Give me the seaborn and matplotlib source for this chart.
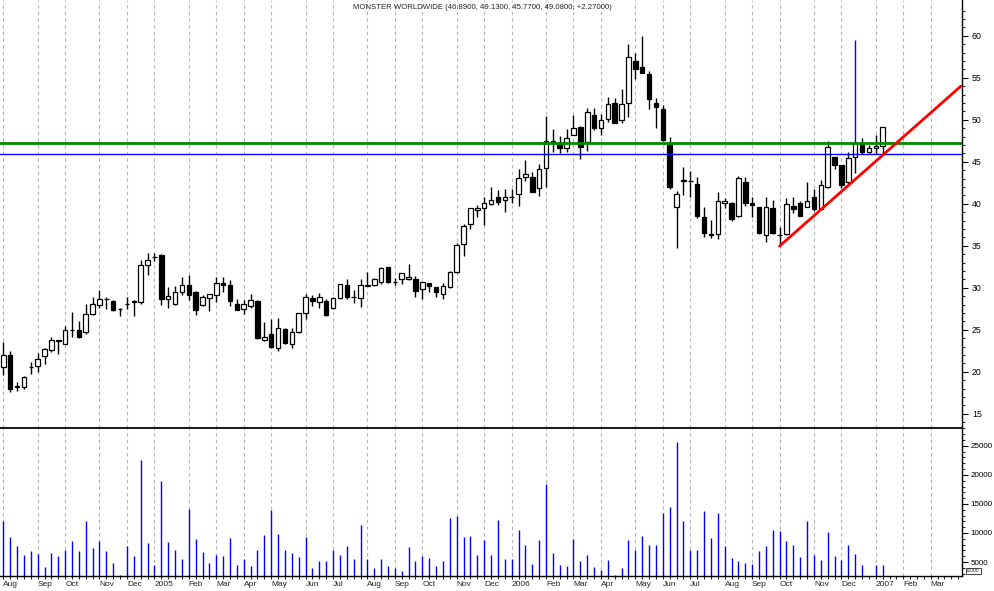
import matplotlib
matplotlib.use("Agg")
import numpy as np
import pandas as pd
import matplotlib.pyplot as plt
import seaborn as sns

# weekly bars, first week starts Mon 26 Jul 2004
start_week = "2004-07-26"

opens = [20.52, 21.99, 18.2, 18.14, 20.55, 20.64, 21.83, 22.55, 23.7, 23.34,
         24.95, 24.97, 24.69, 26.83, 27.9, 28.62, 28.42, 27.43, 28.08, 28.42,
         28.26, 32.66, 33.6, 33.89, 28.66, 28.02, 29.45, 30.32, 29.45, 27.98,
         28.74, 29.09, 30.56, 30.32, 28.02, 27.43, 27.82, 28.42, 23.77, 24.49,
         22.79, 25.08, 23.3, 24.69, 26.95, 28.74, 28.34, 28.42, 27.54, 28.73,
         30.28, 28.85, 28.73, 30.25, 30.28, 30.72, 32.5, 30.7, 30.99, 31.03,
         31.03, 29.8, 30.52, 30.12, 29.25, 30.12, 31.83, 35.16, 37.54, 39.29,
         39.45, 39.93, 40.76, 40.41, 40.82, 41.16, 43.14, 43.14, 41.83, 44.21,
         47.39, 47.19, 46.59, 48.14, 49.1, 47.31, 50.56, 48.97, 50.05, 52.03,
         49.97, 51.95, 56.99, 56.24, 55.44, 51.95, 51.28, 47.19, 39.57, 42.75,
         42.68, 42.35, 38.37, 36.33, 36.35, 40.04, 40.04, 38.57, 42.62, 40.04,
         39.56, 36.27, 39.44, 36.25, 36.39, 39.72, 40.12, 39.64, 40.75, 39.37,
         41.94, 45.52, 44.61, 42.63, 45.52, 47.11, 46.12, 46.59, 46.89]
highs = [23.54, 22.5, 18.81, 19.53, 21.2, 22.27, 22.86, 24.09, 23.75, 25.4,
         27.15, 26.04, 28.06, 28.85, 29.73, 28.86, 28.58, 27.62, 28.86, 28.54,
         33.3, 34.09, 34.17, 34.01, 30.12, 30.2, 31.24, 31.51, 29.65, 29.13,
         29.21, 31.24, 31.24, 30.92, 28.62, 28.54, 29.21, 28.5, 25.95, 26.27,
         26.36, 25.15, 25.15, 26.95, 29.25, 29.13, 29.33, 28.6, 28.93, 30.44,
         30.99, 29.72, 31.03, 31.91, 31.19, 32.42, 32.5, 31.19, 31.71, 32.82,
         31.43, 30.72, 30.52, 30.12, 30.52, 32.03, 35.28, 37.58, 39.45, 39.84,
         40.76, 41.95, 41.63, 41.75, 41.75, 44.14, 45.21, 43.82, 44.69, 50.48,
         48.86, 48.06, 48.86, 50.56, 49.3, 51.36, 51.35, 50.64, 52.66, 52.55,
         53.62, 59.01, 57.9, 59.97, 55.76, 52.55, 51.75, 47.9, 41.52, 44.41,
         43.89, 43.22, 39.64, 38.06, 41.43, 40.63, 40.24, 43.29, 43.13, 40.83,
         39.6, 40.83, 40.44, 37.26, 40.63, 40.83, 40.36, 42.62, 41.7, 42.82,
         47.5, 45.52, 44.61, 46.2, 47.19, 47.78, 46.99, 48.18, 49.13]
lows = [19.61, 17.62, 17.74, 17.98, 19.69, 19.93, 20.96, 22.31, 22.07, 23.26,
        24.17, 24.01, 24.53, 26.79, 27.58, 27.43, 27.27, 26.63, 27.47, 26.67,
        28.02, 31.55, 33.18, 27.94, 27.62, 27.94, 29.13, 28.54, 26.79, 27.86,
        27.27, 28.3, 29.53, 27.86, 27.31, 26.83, 27.62, 23.9, 23.69, 22.79,
        22.5, 23.3, 22.79, 24.6, 26.28, 27.86, 27.62, 26.6, 27.46, 28.65,
        28.69, 28.14, 27.74, 30.2, 30.2, 30.48, 30.6, 30.28, 30.4, 30.92,
        28.93, 28.69, 29.45, 28.93, 28.6, 30.0, 31.79, 33.77, 36.99, 38.45,
        37.47, 39.85, 39.85, 39.06, 40.13, 39.77, 42.75, 41.36, 40.96, 42.03,
        46.2, 46.0, 46.2, 48.14, 45.29, 46.32, 48.78, 48.18, 49.73, 49.57,
        49.57, 50.36, 54.81, 55.52, 51.24, 48.97, 47.5, 41.71, 34.77, 41.04,
        40.84, 38.26, 36.07, 35.87, 35.75, 39.44, 37.98, 38.37, 39.76, 38.45,
        36.39, 35.47, 36.4, 34.96, 36.27, 38.85, 38.5, 39.56, 39.17, 39.25,
        41.82, 44.13, 41.83, 42.35, 43.62, 45.92, 45.99, 45.92, 45.77]
closes = [21.99, 17.9, 18.25, 19.41, 20.6, 21.51, 22.66, 23.74, 23.75, 24.93,
          24.97, 24.17, 26.91, 28.02, 28.66, 28.66, 27.31, 27.45, 28.1, 28.26,
          32.7, 33.26, 33.62, 28.7, 29.01, 29.45, 30.28, 29.09, 27.39, 28.93,
          29.21, 30.52, 30.28, 28.46, 27.39, 28.02, 28.5, 24.0, 24.17, 23.0,
          25.24, 23.38, 24.69, 26.95, 28.85, 28.46, 28.85, 26.7, 28.73, 30.4,
          28.93, 28.9, 30.28, 30.28, 31.03, 32.34, 30.72, 30.72, 31.71, 31.27,
          29.65, 30.72, 30.2, 29.45, 30.24, 31.91, 35.04, 37.34, 39.45, 39.53,
          40.13, 40.44, 40.25, 40.84, 40.84, 43.1, 43.5, 41.36, 44.1, 47.51,
          47.51, 46.67, 47.86, 48.98, 46.79, 50.96, 49.05, 49.97, 51.83, 49.65,
          51.87, 57.43, 56.0, 55.6, 52.43, 51.47, 47.58, 42.03, 41.16, 42.78,
          42.7, 38.54, 36.55, 36.35, 40.32, 40.32, 38.14, 43.02, 40.04, 39.8,
          36.47, 39.64, 36.47, 36.27, 39.92, 39.4, 38.53, 40.32, 39.33, 42.22,
          46.71, 44.61, 42.23, 45.4, 47.19, 46.2, 46.59, 46.87, 49.08]
volume = [12000, 9300, 7800, 6200, 6900, 6400, 4200, 6600, 6100, 7100,
          8600, 6900, 12000, 7400, 8600, 6900, 4900, 2800, 7800, 6100,
          22600, 8300, 4500, 19000, 8500, 7100, 5600, 14100, 9000, 6800,
          4900, 6200, 6100, 9100, 4500, 5600, 4400, 7100, 9700, 13900,
          9800, 7100, 6600, 5900, 9300, 3900, 5200, 5200, 7100, 6200,
          7800, 5600, 11400, 5600, 3900, 5600, 4400, 3900, 3500, 7600,
          5200, 6100, 5700, 4400, 5200, 12600, 12900, 9300, 9500, 6200,
          8800, 6200, 12200, 5600, 5600, 10500, 8000, 4700, 8800, 18500,
          6600, 4500, 4400, 9000, 5200, 6200, 4200, 3700, 5400, 2800,
          4000, 8800, 7100, 9500, 8000, 8000, 13400, 14400, 25700, 12000,
          7100, 7100, 13700, 9100, 13400, 7800, 5700, 5200, 4900, 4700,
          6900, 7800, 10500, 10300, 8600, 8000, 5900, 12000, 6200, 5400,
          10200, 6100, 5400, 8000, 6400, 4500, 2000, 4500, 4500]

# odd spike on the week of 4 Dec 2006 (drawn blue)
spike_week = 124
spike_high = 59.49

# drawn lines
green_level = 47.26
blue_level = 45.88
trend_x = [113, 139.4]
trend_y = [34.96, 54.0]

title = "MONSTER WORLDWIDE (46.8900, 49.1300, 45.7700, 49.0800, +2.27000)"

df = pd.DataFrame({"open": opens, "high": highs, "low": lows,
                   "close": closes, "volume": volume})
df["week"] = np.arange(len(df))
up = df["close"] >= df["open"]

# month grid positions: week that holds the 1st of each month
t0 = pd.Timestamp(start_week)
months = pd.date_range("2004-08-01", "2007-03-01", freq="MS")
month_pos = [(m - t0).days // 7 for m in months]
month_lab = [m.strftime("%Y") if m.month == 1 else m.strftime("%b") for m in months]

sns.set_theme(style="white")
plt.rcParams["font.family"] = ["Liberation Sans", "DejaVu Sans"]

fig = plt.figure(figsize=(9.94, 5.91), dpi=100)
axp = fig.add_axes([0, 0.2758, 0.9678, 0.7242])
axv = fig.add_axes([0, 0.0254, 0.9678, 0.2504], sharex=axp)

xlim = (-0.48, 139.55)
grid_kw = dict(color="#b4b4b4", lw=0.8, ls=(0, (3, 3)), zorder=0)
for ax in (axp, axv):
    for p in month_pos:
        ax.axvline(p, **grid_kw)

# candles
axp.vlines(df["week"], df["low"], df["high"], color="black", lw=1, zorder=2)
body_lo = df[["open", "close"]].min(axis=1)
body_h = (df["close"] - df["open"]).abs()
axp.bar(df["week"], body_h, bottom=body_lo, width=0.66,
        color=np.where(up, "white", "black"), edgecolor="black", lw=0.9, zorder=3)
axp.vlines(spike_week, highs[spike_week], spike_high, color="blue", lw=1, zorder=3)

axp.axhline(green_level, color="#008a00", lw=2, zorder=4)
axp.axhline(blue_level, color="#0000ff", lw=1, zorder=4)
sns.lineplot(x=trend_x, y=trend_y, color="red", lw=2, ax=axp, zorder=5)

axp.set_xlim(*xlim)
axp.set_ylim(13.3, 64.25)
axp.yaxis.tick_right()
axp.set_yticks(np.arange(15, 61, 5))
axp.set_yticks(np.arange(14, 64, 1), minor=True)
axp.tick_params(axis="y", which="major", direction="out", length=4.2, width=0.8,
                labelsize=6.3, pad=3, colors="black")
axp.tick_params(axis="y", which="minor", direction="out", length=2.3, width=0.8)
axp.tick_params(axis="x", which="both", bottom=False, labelbottom=False)
axp.set_xlabel("")
axp.set_ylabel("")

# volume
axv.vlines(df["week"], 0, df["volume"], color="blue", lw=1, zorder=2)
axv.set_ylim(2600, 28070)
axv.yaxis.tick_right()
axv.set_yticks(np.arange(5000, 25001, 5000))
axv.set_yticks(np.arange(3000, 28001, 1000), minor=True)
axv.tick_params(axis="y", which="major", direction="out", length=4.2, width=0.8,
                labelsize=5.8, pad=2, colors="black")
axv.tick_params(axis="y", which="minor", direction="out", length=2.3, width=0.8)
axv.set_xticks(month_pos)
axv.set_xticklabels(month_lab)
axv.set_xticks(np.arange(0, 140), minor=True)
axv.tick_params(axis="x", which="both", direction="out", length=2.5, width=0.8,
                labelsize=6, pad=0.8, bottom=True)
for lbl in axv.get_xticklabels():
    lbl.set_ha("left")

for ax in (axp, axv):
    for side in ("left", "top"):
        ax.spines[side].set_visible(False)
    for side in ("right", "bottom"):
        ax.spines[side].set_color("black")
        ax.spines[side].set_linewidth(1)
axv.spines["top"].set_visible(True)
axv.spines["top"].set_color("black")

fig.text(0.485, 0.988, title, ha="center", va="center", fontsize=5.6)
fig.text(0.979, 0.034, "x1000", ha="center", va="center", fontsize=3.5,
         bbox=dict(facecolor="white", edgecolor="black", lw=0.5, pad=0.6))

fig.savefig("out.png", dpi=100)
